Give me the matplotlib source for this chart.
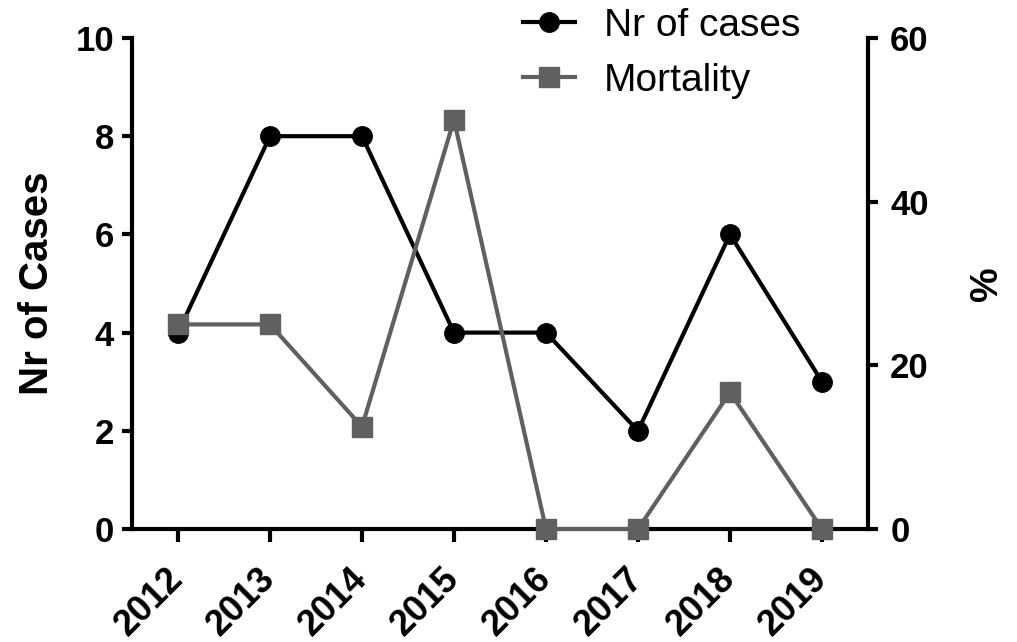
import matplotlib
matplotlib.use("Agg")
import matplotlib.pyplot as plt
import matplotlib.transforms as mtransforms

plt.rcParams["font.family"] = ["Liberation Sans", "DejaVu Sans"]

years = ["2012", "2013", "2014", "2015", "2016", "2017", "2018", "2019"]
cases = [4, 8, 8, 4, 4, 2, 6, 3]
mortality = [25, 25, 12.5, 50, 0, 0, 16.7, 0]

BLACK = "#000000"
GREY = "#606060"

fig = plt.figure(figsize=(10.17, 6.42), dpi=100)
ax = fig.add_axes([132 / 1017, 1 - 529 / 642, (868 - 132) / 1017, (529 - 38) / 642])
ax2 = ax.twinx()

x = list(range(len(years)))
l1, = ax.plot(x, cases, color=BLACK, lw=3, marker="o", ms=14, label="Nr of cases",
              clip_on=False, zorder=3)
l2, = ax2.plot(x, mortality, color=GREY, lw=3, marker="s", ms=14, label="Mortality",
               clip_on=False, zorder=3)

ax.set_xlim(-0.5, 7.5)
ax.set_ylim(0, 10)
ax2.set_ylim(0, 60)
ax.set_yticks([0, 2, 4, 6, 8, 10])
ax2.set_yticks([0, 20, 40, 60])

for a in (ax, ax2):
    a.spines["top"].set_visible(False)
    for s in a.spines.values():
        s.set_linewidth(3)
ax.spines["right"].set_visible(False)
ax2.spines["left"].set_visible(False)
ax2.spines["bottom"].set_visible(False)

ax.tick_params(axis="y", length=7, width=3, labelsize=25, pad=6)
ax2.tick_params(axis="y", length=7, width=3, labelsize=25, pad=9)
ax.tick_params(axis="x", length=9, width=3, labelsize=26, pad=14)
for lab in ax.get_yticklabels() + ax2.get_yticklabels():
    lab.set_fontweight("bold")

ax.set_xticks(x)
ax.set_xticklabels(years, rotation=45, ha="right", va="top", fontweight="bold")
offset = mtransforms.ScaledTranslation(12 / 100, 0, fig.dpi_scale_trans)
for lab in ax.get_xticklabels():
    lab.set_transform(lab.get_transform() + offset)

ax.set_ylabel("Nr of Cases", fontsize=29, fontweight="bold", labelpad=14)
ax2.set_ylabel("%", fontsize=28, fontweight="bold", labelpad=29)

fig.legend(handles=[l1, l2], loc="upper left", bbox_to_anchor=(507 / 1017, 1 + 8 / 642),
           frameon=False, fontsize=28, handlelength=1.35, handletextpad=0.75,
           labelspacing=0.5, borderaxespad=0)

fig.savefig("out.png", dpi=100)
